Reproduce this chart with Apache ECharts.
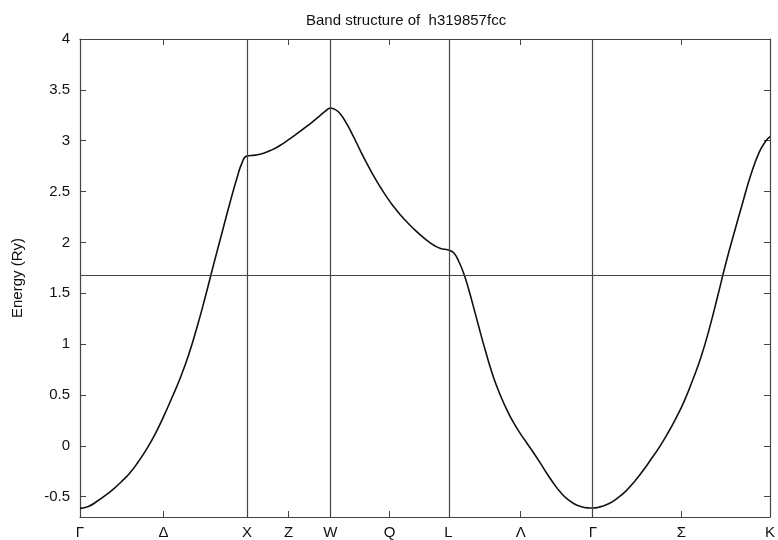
<!DOCTYPE html>
<html>
<head>
<meta charset="utf-8">
<script src="https://cdn.jsdelivr.net/npm/echarts@6/dist/echarts.min.js"></script>
<style>
  html, body { margin: 0; padding: 0; background: #fff; }
  #chart { width: 778px; height: 540px; }
</style>
</head>
<body>
<div id="chart"></div>
<script>
// k-path distances (2pi/a) of the high-symmetry points and their labels
const symK = [0, 1.0, 1.5, 2.2071, 3.0731, 4.1337];
const symLabels = ["Γ", "X", "W", "L", "Γ", "K"];
// mid-segment ticks
const midK = [0.5, 1.25, 1.854, 2.640, 3.603];
const midLabels = ["Δ", "Z", "Q", "Λ", "Σ"];
const fermiE = 1.68;
const yTicks = [-0.5, 0, 0.5, 1, 1.5, 2, 2.5, 3, 3.5, 4];

// band energies (Ry) read along the path, one pair of arrays per segment
const kGX = [0, 0.05, 0.1, 0.15, 0.2, 0.25, 0.3, 0.35, 0.4, 0.45, 0.5, 0.55, 0.6, 0.65, 0.7, 0.75, 0.8, 0.85, 0.9, 0.94, 0.97, 1.0];
const eGX = [-0.615, -0.597, -0.548, -0.49, -0.425, -0.35, -0.265, -0.155, -0.03, 0.115, 0.285, 0.47, 0.665, 0.89, 1.16, 1.46, 1.78, 2.09, 2.40, 2.63, 2.78, 2.85];
const kXW = [1.05, 1.1, 1.15, 1.2, 1.25, 1.3, 1.35, 1.4, 1.44, 1.47, 1.5];
const eXW = [2.858, 2.877, 2.91, 2.955, 3.01, 3.07, 3.13, 3.195, 3.25, 3.29, 3.32];
const kWL = [1.53, 1.56, 1.6, 1.64, 1.68, 1.72, 1.76, 1.8, 1.84, 1.88, 1.92, 1.96, 2.0, 2.04, 2.08, 2.12, 2.16, 2.2071];
const eWL = [3.305, 3.262, 3.16, 3.035, 2.9, 2.772, 2.652, 2.542, 2.44, 2.35, 2.27, 2.198, 2.132, 2.072, 2.018, 1.972, 1.94, 1.925];
const kLG = [2.24, 2.27, 2.3, 2.33, 2.36, 2.39, 2.42, 2.45, 2.48, 2.52, 2.56, 2.6, 2.64, 2.68, 2.72, 2.76, 2.8, 2.84, 2.88, 2.92, 2.96, 3.0, 3.04, 3.0731];
const eLG = [1.895, 1.81, 1.69, 1.53, 1.35, 1.165, 0.985, 0.815, 0.66, 0.49, 0.345, 0.22, 0.115, 0.02, -0.075, -0.175, -0.28, -0.375, -0.46, -0.525, -0.57, -0.597, -0.61, -0.612];
const kGK = [3.12, 3.17, 3.22, 3.27, 3.32, 3.37, 3.42, 3.47, 3.52, 3.57, 3.62, 3.67, 3.72, 3.77, 3.82, 3.87, 3.92, 3.97, 4.02, 4.07, 4.11, 4.1337];
const eGK = [-0.598, -0.568, -0.515, -0.445, -0.355, -0.25, -0.135, -0.015, 0.12, 0.27, 0.44, 0.645, 0.87, 1.15, 1.47, 1.8, 2.1, 2.39, 2.67, 2.89, 3.0, 3.04];

const bandK = [].concat(kGX, kXW, kWL, kLG, kGK);
const bandE = [].concat(eGX, eXW, eWL, eLG, eGK);

const allK = symK.concat(midK).sort((a, b) => a - b);
const allLabels = allK.map(k => {
  const i = symK.indexOf(k);
  return i >= 0 ? symLabels[i] : midLabels[midK.indexOf(k)];
});
function kLabel(v) {
  const i = allK.findIndex(k => Math.abs(k - v) < 1e-4);
  return i >= 0 ? allLabels[i] : "";
}

const axisColor = "#444";
const textColor = "#111";
const font = "Liberation Sans, Arial, sans-serif";

const chart = echarts.init(document.getElementById("chart"));
const option = {
  backgroundColor: "#fff",
  animation: false,
  title: {
    text: "Band structure of  h319857fcc",
    left: 301,
    top: 8,
    textStyle: { fontFamily: font, fontSize: 15, fontWeight: "normal", color: textColor }
  },
  grid: { left: 80, right: 7, top: 39, bottom: 23 },
  xAxis: [
    {
      type: "value", min: 0, max: 4.1337, position: "bottom",
      axisLine: { show: true, onZero: false, lineStyle: { color: axisColor, width: 1.2 } },
      axisTick: { show: true, inside: true, length: 6, customValues: midK, lineStyle: { color: axisColor } },
      axisLabel: {
        customValues: allK,
        formatter: v => kLabel(v),
        showMinLabel: true,
        showMaxLabel: true,
        hideOverlap: false,
        margin: 8,
        fontFamily: font, fontSize: 15, color: textColor
      },
      splitLine: { show: false }
    },
    {
      type: "value", min: 0, max: 4.1337, position: "top",
      axisLine: { show: true, onZero: false, lineStyle: { color: axisColor, width: 1.2 } },
      axisTick: { show: true, inside: true, length: 6, customValues: midK, lineStyle: { color: axisColor } },
      axisLabel: { show: false },
      splitLine: { show: false }
    }
  ],
  yAxis: [
    {
      type: "value", min: -0.7, max: 4, position: "left",
      name: "Energy (Ry)", nameLocation: "middle", nameGap: 55,
      nameTextStyle: { fontFamily: font, fontSize: 15, color: textColor },
      axisLine: { show: true, onZero: false, lineStyle: { color: axisColor, width: 1.2 } },
      axisTick: { show: true, inside: true, length: 6, customValues: yTicks, lineStyle: { color: axisColor } },
      axisLabel: { customValues: yTicks, margin: 10, fontFamily: font, fontSize: 15, color: textColor },
      splitLine: { show: false }
    },
    {
      type: "value", min: -0.7, max: 4, position: "right",
      axisLine: { show: true, onZero: false, lineStyle: { color: axisColor, width: 1.2 } },
      axisTick: { show: true, inside: true, length: 6, customValues: yTicks, lineStyle: { color: axisColor } },
      axisLabel: { show: false },
      splitLine: { show: false }
    }
  ],
  series: [
    {
      type: "line",
      data: bandK.map((k, i) => [k, bandE[i]]),
      smooth: 0.5,
      showSymbol: false,
      lineStyle: { color: "#111", width: 1.6 },
      markLine: {
        silent: true,
        symbol: "none",
        label: { show: false },
        lineStyle: { color: axisColor, width: 1.2, type: "solid" },
        data: symK.slice(1, 5).map(k => ({ xAxis: k })).concat([{ yAxis: fermiE }])
      }
    }
  ]
};
chart.setOption(option);
</script>
</body>
</html>
